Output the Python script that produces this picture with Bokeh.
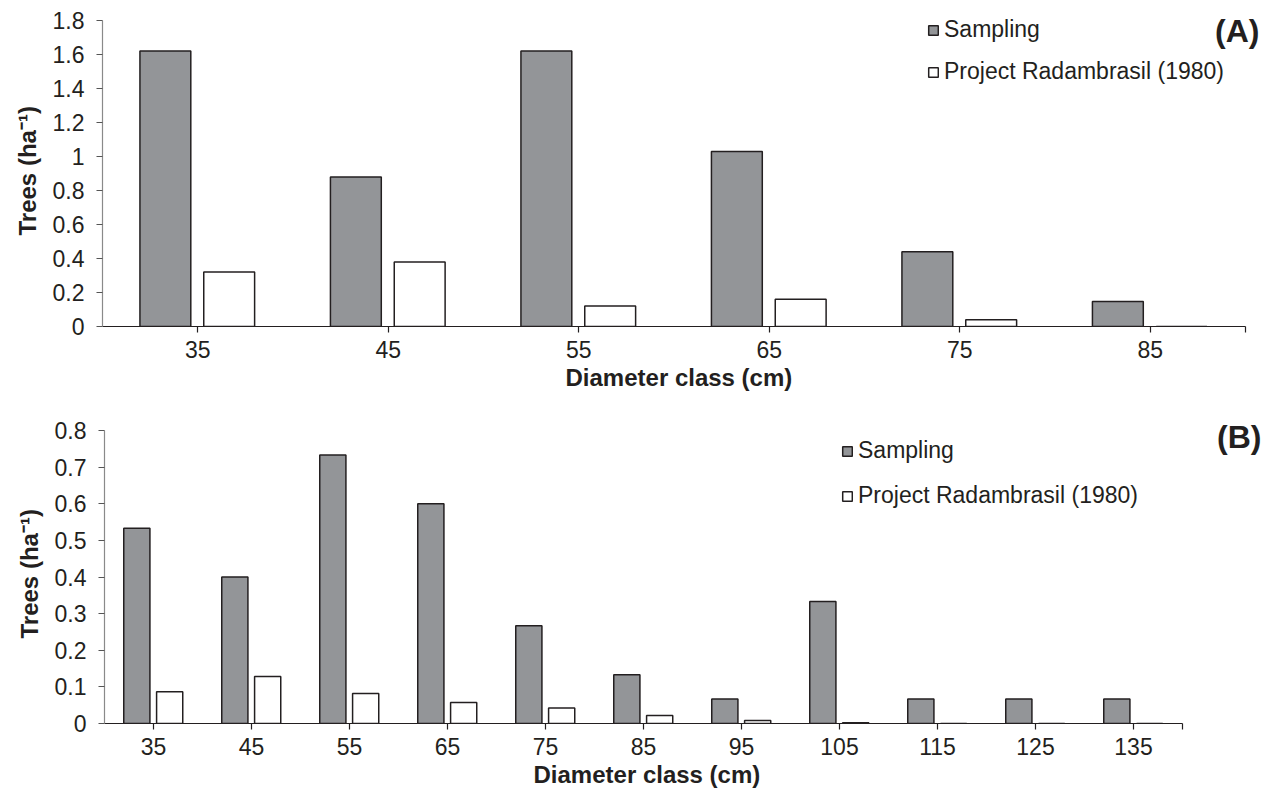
from bokeh.plotting import figure
from bokeh.models import (Range1d, FixedTicker, CustomJSTickFormatter, Legend, LegendItem, Label,
                          ColumnDataSource, Title)
from bokeh.embed import file_html
from bokeh.resources import INLINE

# Panel A data
classes_a = [35, 45, 55, 65, 75, 85]
sampling_a = [1.62, 0.88, 1.62, 1.03, 0.44, 0.147]
radam_a = [0.32, 0.38, 0.12, 0.16, 0.04, 0.0]

# Panel B data
classes_b = [35, 45, 55, 65, 75, 85, 95, 105, 115, 125, 135]
sampling_b = [0.533, 0.4, 0.733, 0.6, 0.267, 0.133, 0.067, 0.333, 0.067, 0.067, 0.067]
radam_b = [0.087, 0.128, 0.082, 0.057, 0.042, 0.022, 0.008, 0.002, 0.0, 0.0, 0.0]

series_names = ["Sampling", "Project Radambrasil (1980)"]
x_title = "Diameter class (cm)"
y_title = "Trees (ha\u207b\u00b9)"
FONT = "Liberation Sans"
GRAY = "#939598"
DARK = "#231f20"
FS = "23px"

def make_panel(classes, s_vals, r_vals, ymax, ystep, height, borders, axis_px, axis_py,
               legend_loc, legend_spacing, tag, tag_pos, xt_off, yt_off):
    left, right, top, bottom = borders
    width = 1274
    x0, x1 = classes[0] - 5, classes[-1] + 5
    frame_w = width - left - right
    frame_h = height - top - bottom
    xr_end = x0 + frame_w * (x1 - x0) / axis_px
    yr_end = frame_h * ymax / axis_py
    p = figure(width=width, height=height, output_backend="svg", toolbar_location=None,
               x_range=Range1d(x0, xr_end), y_range=Range1d(0, yr_end),
               min_border_left=left, min_border_right=right, min_border_top=top, min_border_bottom=bottom)
    p.outline_line_color = None
    p.xgrid.grid_line_color = None
    p.ygrid.grid_line_color = None
    src = ColumnDataSource(dict(xs=[c - 1.7 for c in classes], xr=[c + 1.65 for c in classes],
                                s=s_vals, r=r_vals))
    w = 2.67
    rs = p.vbar(x="xs", top="s", width=w, bottom=0, source=src, fill_color=GRAY, line_color=DARK, line_width=1.5)
    rr = p.vbar(x="xr", top="r", width=w, bottom=0, source=src, fill_color="white", line_color=DARK, line_width=1.5)

    n = int(round(ymax / ystep))
    p.yaxis.ticker = FixedTicker(ticks=[round(i * ystep, 2) for i in range(n + 1)])
    p.yaxis.formatter = CustomJSTickFormatter(code="return tick.toFixed(1).replace(/\\.0$/, '');")
    p.yaxis.bounds = (0, ymax)
    p.xaxis.ticker = FixedTicker(ticks=classes + [x1])
    p.xaxis.formatter = CustomJSTickFormatter(code="return tick > %d ? '' : String(tick);" % classes[-1])
    p.xaxis.bounds = (x0, x1)
    for ax in (p.xaxis[0], p.yaxis[0]):
        ax.major_label_text_font = FONT
        ax.major_label_text_font_size = FS
        ax.major_label_text_color = DARK
        ax.minor_tick_line_color = None
        ax.major_tick_out = 6
        ax.major_tick_in = 0
        ax.major_tick_line_width = 1.2
    p.yaxis.axis_line_color = "#8a8a8a"
    p.yaxis.major_tick_line_color = "#555555"
    p.xaxis.axis_line_color = DARK
    p.xaxis.major_tick_line_color = DARK
    p.xaxis.axis_line_width = 1.2
    p.yaxis.axis_line_width = 1.2
    p.yaxis.major_label_standoff = 12
    p.xaxis.major_label_standoff = 8

    xt = Title(text=x_title, align="left", offset=xt_off, standoff=2, text_font=FONT,
               text_font_size="24px", text_font_style="bold", text_color=DARK)
    p.add_layout(xt, "below")
    yt = Title(text=y_title, align="left", offset=yt_off, standoff=18, text_font=FONT,
               text_font_size="24px", text_font_style="bold", text_color=DARK)
    p.add_layout(yt, "left")

    legend = Legend(items=[LegendItem(label=series_names[0], renderers=[rs]),
                           LegendItem(label=series_names[1], renderers=[rr])],
                    location=legend_loc, orientation="vertical")
    legend.border_line_color = None
    legend.background_fill_alpha = 0
    legend.padding = 0
    legend.margin = 0
    legend.spacing = legend_spacing
    legend.glyph_width = 12
    legend.glyph_height = 12
    legend.label_height = 27
    legend.label_standoff = 5
    legend.label_text_font = FONT
    legend.label_text_font_size = FS
    legend.label_text_color = DARK
    p.add_layout(legend, "center")

    lbl = Label(x=tag_pos[0], y=tag_pos[1], x_units="screen", y_units="screen", text=tag,
                text_font=FONT, text_font_size="32px", text_font_style="bold",
                text_align="right", text_baseline="middle", text_color=DARK)
    p.add_layout(lbl)
    return p

# A: frame bottom at canvas y=326, axis 102..1245, top tick at y=20
pa = make_panel(classes_a, sampling_a, radam_a, 1.8, 0.2, 400, (102, 5, 5, 74), 1143, 306,
                (825, 241), 15, "(A)", (1157, 296), 463, 91)
# B: figure starts at canvas y=400; frame bottom at 723, axis 104..1182, top tick at y=430
pb = make_panel(classes_b, sampling_b, radam_b, 0.8, 0.1, 394, (104, 5, 5, 71), 1078, 293,
                (737, 214), 18, "(B)", (1157, 287), 429, 85)

open("out.html", "w").write(file_html([pa, pb], INLINE))
